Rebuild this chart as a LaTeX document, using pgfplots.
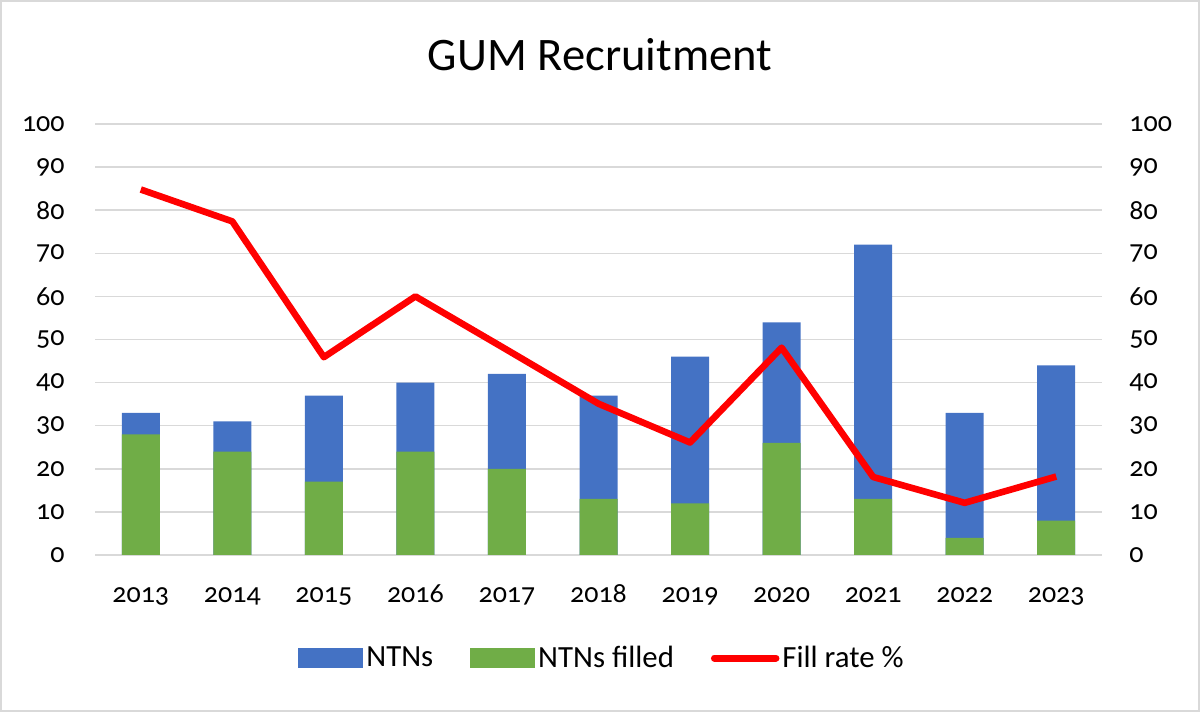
\documentclass[border=0pt]{standalone}
\usepackage{fontspec}
\setmainfont{Carlito}[Numbers=OldStyle]
\usepackage{pgfplots}
\pgfplotsset{compat=1.18}
\definecolor{ntn}{HTML}{4472C4}
\definecolor{filled}{HTML}{70AD47}
\definecolor{gridc}{HTML}{D9D9D9}
\begin{document}
\begin{tikzpicture}[x=1pt,y=1pt]
\draw[gridc, line width=1pt] (0.5,0.5) rectangle (599.5,355.5);
\node[font=\fontsize{23.3}{27}\selectfont] at (300,328.5) {GUM Recruitment};
\begin{axis}[at={(47.5pt,78.5pt)}, anchor=south west, scale only axis,
  width=503.5pt, height=215.5pt,
  xmin=-0.5, xmax=10.5, ymin=0, ymax=100,
  ytick={0,10,...,100}, xtick={0,...,10},
  xticklabels={2013,2014,2015,2016,2017,2018,2019,2020,2021,2022,2023},
  axis line style={draw=none}, major tick length=0pt,
  ymajorgrids, grid style={gridc, line width=0.75pt},
  /pgf/number format/assume math mode=true,
  tick label style={font=\fontsize{14}{16}\selectfont},
  yticklabel style={inner sep=0pt, anchor=east, xshift=-15pt},
  xticklabel style={inner sep=0pt, anchor=base, yshift=-24pt},
  legend style={at={(0.504,-0.239)}, anchor=center, legend columns=3, draw=none,
    font=\fontsize{15.4}{18}\selectfont,
    /tikz/every even column/.append style={column sep=17pt},
    nodes={inner sep=1.5pt}},
]
\addplot[ybar, bar width=19pt, bar shift=0pt, fill=ntn, draw=none,
  legend image code/.code={\fill[ntn] (0pt,-5pt) rectangle (32.5pt,5pt);}]
  coordinates {(0,33) (1,31) (2,37) (3,40) (4,42) (5,37) (6,46) (7,54) (8,72) (9,33) (10,44)};
\addlegendentry{NTNs}
\addplot[ybar, bar width=19pt, bar shift=0pt, fill=filled, draw=none,
  legend image code/.code={\fill[filled] (0pt,-5pt) rectangle (32.5pt,5pt);}]
  coordinates {(0,28) (1,24) (2,17) (3,24) (4,20) (5,13) (6,12) (7,26) (8,13) (9,4) (10,8)};
\addlegendentry{NTNs filled}
\addplot[red, line width=3.3pt, line join=round, mark=none,
  legend image code/.code={\draw[red, line width=3.5pt, line cap=round] (1.75pt,0pt) -- (32.5pt,0pt);}]
  coordinates {(0,84.8) (1,77.4) (2,45.9) (3,60) (4,47.6) (5,35.1) (6,26.1) (7,48.1) (8,18.1) (9,12.1) (10,18.2)};
\addlegendentry{Fill rate \%}
\end{axis}
\begin{axis}[at={(47.5pt,78.5pt)}, anchor=south west, scale only axis,
  width=503.5pt, height=215.5pt,
  xmin=-0.5, xmax=10.5, ymin=0, ymax=100,
  ytick={0,10,...,100}, hide x axis,
  axis line style={draw=none}, major tick length=0pt,
  yticklabel pos=right,
  /pgf/number format/assume math mode=true,
  tick label style={font=\fontsize{14}{16}\selectfont},
  yticklabel style={inner sep=0pt, anchor=west, xshift=13.5pt},
]
\addplot[draw=none] coordinates {(0,0)};
\end{axis}
\end{tikzpicture}
\end{document}
